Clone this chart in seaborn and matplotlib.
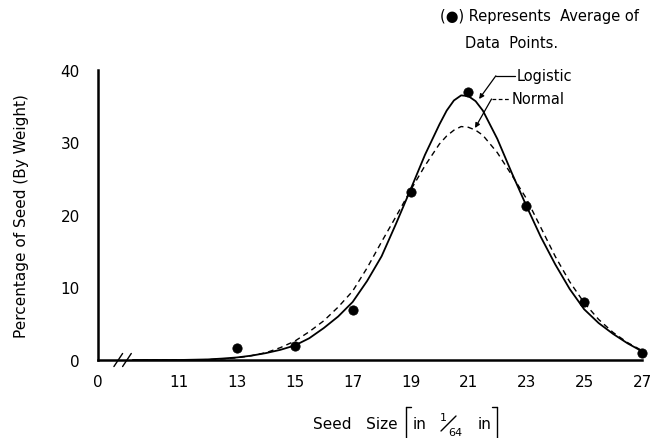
import numpy as np
import pandas as pd
import matplotlib
matplotlib.use("Agg")
import matplotlib.pyplot as plt
from matplotlib.lines import Line2D
import seaborn as sns

# Observed averages (dots)
seed_sizes = [13, 15, 17, 19, 21, 23, 25, 27]
seed_pct = [1.6, 2.0, 6.9, 23.2, 37.0, 21.2, 8.0, 1.0]

# Fitted curves
curve_x = [9.4, 10, 11, 12, 12.5, 13, 13.5, 14, 14.5, 15, 15.5, 16, 16.5, 17, 17.5,
           18, 18.5, 19, 19.5, 20, 20.25, 20.5, 20.75, 21, 21.25, 21.5, 22, 22.5,
           23, 23.5, 24, 24.5, 25, 25.5, 26, 26.5, 27]
logistic_y = [0, 0, 0, 0.08, 0.2, 0.35, 0.6, 0.95, 1.4, 2.0, 3.0, 4.4, 6.0, 8.0, 10.9,
              14.3, 18.8, 23.5, 28.3, 32.5, 34.4, 35.8, 36.5, 36.4, 35.7, 34.4, 30.5, 25.8,
              21.3, 17.0, 13.2, 9.8, 7.0, 5.1, 3.6, 2.3, 1.2]
normal_y = [0, 0, 0, 0.05, 0.15, 0.3, 0.6, 1.0, 1.7, 2.6, 3.9, 5.4, 7.3, 9.5, 12.7,
            16.3, 19.8, 23.4, 26.8, 29.8, 30.9, 31.7, 32.2, 32.1, 31.7, 31.0, 28.6, 25.5,
            22.3, 18.3, 14.3, 10.8, 7.9, 5.6, 3.8, 2.4, 1.3]

x_tick_pos = [8.2, 10, 11, 12, 13, 14, 15, 16, 17, 18, 19, 20, 21, 22, 23, 24, 25, 26, 27]
x_tick_lab = ["0", "", "11", "", "13", "", "15", "", "17", "", "19", "", "21", "", "23",
              "", "25", "", "27"]
y_ticks = [0, 10, 20, 30, 40]

sns.set_style("white")
plt.rcParams['font.family'] = ['DejaVu Sans']
plt.rcParams['text.color'] = 'black'
plt.rcParams['axes.labelcolor'] = 'black'

W, H = 670, 439
fig = plt.figure(figsize=(W / 100, H / 100), dpi=100)
ax = fig.add_axes([98 / W, 1 - 361 / H, (642 - 98) / W, (361 - 71) / H])

df_log = pd.DataFrame({"x": curve_x, "y": logistic_y})
df_nor = pd.DataFrame({"x": curve_x, "y": normal_y})
df_pts = pd.DataFrame({"x": seed_sizes, "y": seed_pct})

sns.lineplot(data=df_log, x="x", y="y", ax=ax, color="black", lw=1.3, sort=False)
sns.lineplot(data=df_nor, x="x", y="y", ax=ax, color="black", lw=1.0, sort=False,
             linestyle=(0, (4, 3)))
sns.scatterplot(data=df_pts, x="x", y="y", ax=ax, color="black", s=45,
                edgecolor="black", zorder=5, clip_on=False)

ax.set_xlim(8.2, 27.0)
ax.set_ylim(0, 40)
ax.set_xticks(x_tick_pos)
ax.set_xticklabels(x_tick_lab)
ax.set_yticks(y_ticks)
ax.set_yticklabels([str(v) for v in y_ticks])
ax.tick_params(axis="both", direction="out", length=5, width=1.5, labelsize=11,
               colors="black", pad=8)
ax.tick_params(axis="x", pad=5)

for s in ["top", "right"]:
    ax.spines[s].set_visible(False)
for s in ["left", "bottom"]:
    ax.spines[s].set_linewidth(1.8)
    ax.spines[s].set_color("black")

ax.set_xlabel("")
ax.set_ylabel("Percentage of Seed (By Weight)", fontsize=11, labelpad=23)

# axis break marks
for dx in [0.0, 0.3]:
    ax.plot([8.75 + dx, 9.05 + dx], [-0.9, 0.9], color="black", lw=1.0, clip_on=False)

# annotations
ax.annotate("", xy=(21.37, 36.0), xytext=(21.95, 39.2),
            arrowprops=dict(arrowstyle="-|>", color="black", lw=0.9,
                            mutation_scale=7, shrinkA=0, shrinkB=0))
ax.plot([21.95, 22.6], [39.2, 39.2], color="black", lw=0.9, clip_on=False)
ax.text(22.65, 39.2, "Logistic", fontsize=10.5, va="center", ha="left")

ax.annotate("", xy=(21.23, 32.0), xytext=(21.8, 36.0),
            arrowprops=dict(arrowstyle="-|>", color="black", lw=0.9,
                            mutation_scale=7, shrinkA=0, shrinkB=0))
ax.plot([21.8, 22.45], [36.0, 36.0], color="black", lw=0.9, clip_on=False,
        linestyle=(0, (3, 2)))
ax.text(22.5, 36.0, "Normal", fontsize=10.5, va="center", ha="left")

fig.text(440 / W, 1 - 16 / H, "(\u25cf) Represents  Average of", fontsize=10.5,
         ha="left", va="center")
fig.text(465 / W, 1 - 44 / H, "Data  Points.", fontsize=10.5, ha="left", va="center")


# x-axis label built from pieces: Seed Size [in 1/64 in]
def fx(px):
    return px / W


def fy(py):
    return 1 - py / H


fig.text(fx(313), fy(425), "Seed   Size", fontsize=11, ha="left", va="center")
for xb, sgn in [(406, 1), (497, -1)]:
    fig.add_artist(Line2D([fx(xb), fx(xb)], [fy(408), fy(443)], color="black", lw=1.0,
                          transform=fig.transFigure))
    fig.add_artist(Line2D([fx(xb), fx(xb + sgn * 5)], [fy(408), fy(408)], color="black",
                          lw=1.0, transform=fig.transFigure))
    fig.add_artist(Line2D([fx(xb), fx(xb + sgn * 5)], [fy(443), fy(443)], color="black",
                          lw=1.0, transform=fig.transFigure))
fig.text(fx(413), fy(425), "in", fontsize=11, ha="left", va="center")
fig.text(fx(440), fy(418), "1", fontsize=8, ha="left", va="center")
fig.add_artist(Line2D([fx(441), fx(456)], [fy(432), fy(417)], color="black", lw=1.0,
                      transform=fig.transFigure))
fig.text(fx(448), fy(433), "64", fontsize=8, ha="left", va="center")
fig.text(fx(478), fy(425), "in", fontsize=11, ha="left", va="center")

fig.savefig("out.png", dpi=100)
